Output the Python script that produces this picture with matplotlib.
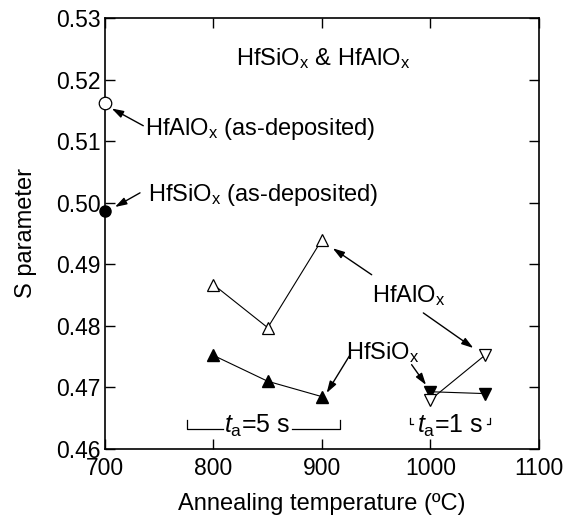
import matplotlib
matplotlib.use("Agg")
import matplotlib.pyplot as plt

plt.rcParams['font.family'] = ['Liberation Sans', 'DejaVu Sans']
plt.rcParams['mathtext.fontset'] = 'custom'
plt.rcParams['mathtext.rm'] = 'Liberation Sans'
plt.rcParams['mathtext.it'] = 'Liberation Sans:italic'

# as-deposited values (plotted at the left axis, 700 C)
asdep_T = [700]
hfalo_asdep = [0.5162]
hfsio_asdep = [0.4987]

# t_a = 5 s
T_5s = [800, 850, 900]
hfalo_5s = [0.4867, 0.4797, 0.4940]
hfsio_5s = [0.4752, 0.4710, 0.4685]

# t_a = 1 s
T_1s = [1000, 1050]
hfalo_1s = [0.4680, 0.4752]
hfsio_1s = [0.4693, 0.4690]

xticks = [700, 800, 900, 1000, 1100]
yticks = [0.46, 0.47, 0.48, 0.49, 0.50, 0.51, 0.52, 0.53]

fig = plt.figure(figsize=(5.79, 5.18), dpi=100)
ax = fig.add_axes([0.1813, 0.1332, 0.7496, 0.8321])

ax.plot(asdep_T, hfalo_asdep, 'o', ms=9, mfc='white', mec='black', mew=0.9, clip_on=False, zorder=5)
ax.plot(asdep_T, hfsio_asdep, 'o', ms=8, mfc='black', mec='black', clip_on=False, zorder=5)

ax.plot(T_5s, hfalo_5s, '-^', color='black', lw=0.8, ms=9, mfc='white', mew=0.9)
ax.plot(T_5s, hfsio_5s, '-^', color='black', lw=0.8, ms=9, mfc='black')
ax.plot(T_1s, hfalo_1s, '-v', color='black', lw=0.8, ms=9, mfc='white', mew=0.9, zorder=4)
ax.plot(T_1s, hfsio_1s, '-v', color='black', lw=0.8, ms=9, mfc='black', zorder=3)

ax.set_xlim(700, 1100)
ax.set_ylim(0.46, 0.53)
ax.set_xticks(xticks)
ax.set_yticks(yticks)
ax.set_yticklabels(['%.2f' % v for v in yticks])
ax.tick_params(direction='in', length=7, width=1, labelsize=16.5, top=True, right=True, pad=3)
ax.tick_params(axis='x', pad=6)
for s in ax.spines.values():
    s.set_linewidth(1.2)

ax.set_xlabel('Annealing temperature (ºC)', fontsize=17, labelpad=9)
ax.set_ylabel('S parameter', fontsize=17, labelpad=14)

fs = 17
ax.text(821, 0.5224, r'HfSiO$_\mathrm{x}$ & HfAlO$_\mathrm{x}$', fontsize=fs, va='baseline')

arr = dict(arrowstyle='-|>,head_length=0.7,head_width=0.22', color='black', lw=1, shrinkA=0, shrinkB=0)
ax.text(737, 0.5110, r'HfAlO$_\mathrm{x}$ (as-deposited)', fontsize=fs, va='baseline')
ax.annotate('', xy=(706.2, 0.5153), xytext=(735.3, 0.5125), arrowprops=arr)
ax.text(740, 0.5002, r'HfSiO$_\mathrm{x}$ (as-deposited)', fontsize=fs, va='baseline')
ax.annotate('', xy=(709.2, 0.4993), xytext=(732.3, 0.5016), arrowprops=arr)

ax.text(946, 0.4839, r'HfAlO$_\mathrm{x}$', fontsize=fs, va='baseline')
ax.annotate('', xy=(909.9, 0.4926), xytext=(945.8, 0.4883), arrowprops=arr)
ax.annotate('', xy=(1039.5, 0.4764), xytext=(993.4, 0.4821), arrowprops=arr)

ax.text(922, 0.4746, r'HfSiO$_\mathrm{x}$', fontsize=fs, va='baseline')
ax.annotate('', xy=(904.3, 0.4691), xytext=(925.2, 0.4751), arrowprops=arr)
ax.annotate('', xy=(995.9, 0.4704), xytext=(982.6, 0.4737), arrowprops=arr)

# t_a = 5 s bracket
br = dict(color='black', lw=0.9)
ax.plot([775.6, 775.6, 808.8], [0.4647, 0.4633, 0.4633], **br)
ax.plot([872.4, 916.6, 916.6], [0.4633, 0.4633, 0.4647], **br)
ax.text(840.5, 0.4637, r'$t_\mathrm{a}$=5 s', fontsize=18, ha='center', va='center')

# t_a = 1 s corners
ax.plot([981, 981, 984], [0.4651, 0.4640, 0.4640], **br)
ax.plot([1052, 1055, 1055], [0.4640, 0.4640, 0.4651], **br)
ax.text(1018, 0.4637, r'$t_\mathrm{a}$=1 s', fontsize=18, ha='center', va='center')

fig.savefig('out.png', dpi=100)
